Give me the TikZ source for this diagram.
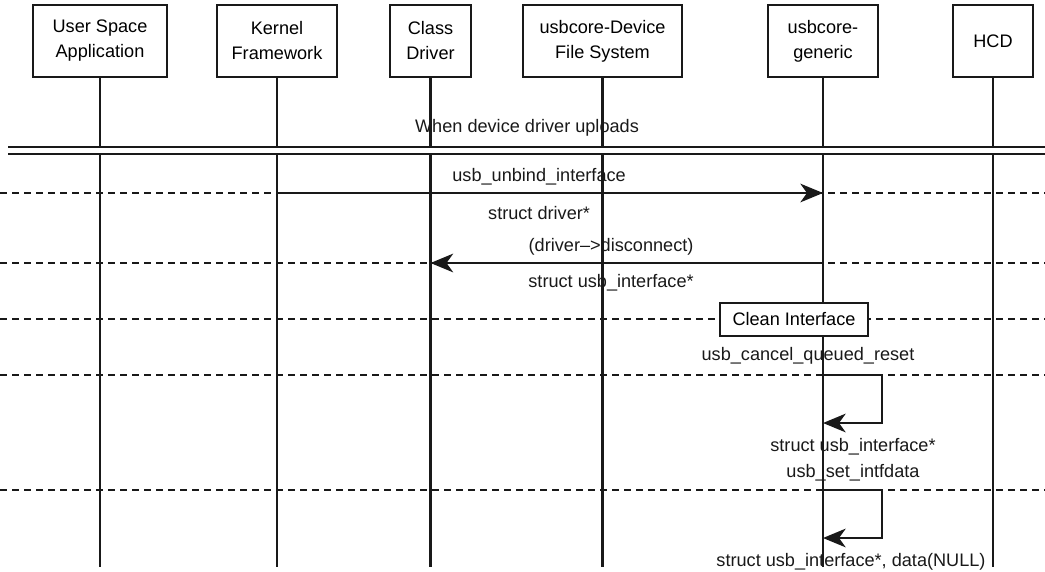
\documentclass[tikz,border=0pt]{standalone}
\usepackage{fontspec}
\setmainfont{Liberation Sans}
\usetikzlibrary{arrows.meta}

\begin{document}
\begin{tikzpicture}[x=0.75pt,y=-0.75pt,font=\fontsize{13.6}{18.75}\selectfont,>={Stealth[length=17pt,width=14pt,inset=5pt]},
  actor/.style={rectangle,draw=black!90,fill=white,line width=1.6pt,minimum height=54pt,align=center,inner sep=2pt},
  life/.style={draw=black!90,line width=1.6pt},
  sepline/.style={draw=black!90,line width=1.6pt,dash pattern=on 5pt off 4pt},
  msg/.style={->,draw=black!90,line width=1.6pt},
  lbl/.style={inner sep=1pt,text=black!90}]
\useasboundingbox (0,0) rectangle (1045,571);
% participants
\node[actor,minimum width=100.5pt] (user) at (100,41) {User Space\\Application};
\node[actor,minimum width=90pt] (kernel) at (277,41) {Kernel\\Framework};
\node[actor,minimum width=60.75pt] (class) at (430.5,41) {Class\\Driver};
\node[actor,minimum width=119.25pt] (devfs) at (602.5,41) {usbcore-Device\\File System};
\node[actor,minimum width=82.5pt] (generic) at (823,41) {usbcore-\\generic};
\node[actor,minimum width=60pt] (hcd) at (993,41) {HCD};
% lifelines
\foreach \p in {user,kernel,class,devfs,generic,hcd}
  \draw[life] (\p.south) -- (\p |- 0,567);
% phase
\node[lbl] (phase) at (527,128) {When device driver uploads};
\draw[draw=black!90,line width=1.6pt,double distance=3.7pt] (8,150.5) -- (1045,150.5);
% separators
\foreach \y in {193,263,319,375,490}
  \draw[sepline] (0,\y) -- (1045,\y);
% messages
\draw[msg] (kernel |- 0,193) -- node[lbl,above=4pt,pos=0.48] (m1a) {usb\_unbind\_interface}
  node[lbl,below=8pt,pos=0.48] (m1b) {struct driver*} (generic |- 0,193);
\draw[msg] (generic |- 0,263) -- node[lbl,above=4pt,pos=0.54] (m2a) {(driver--{}>disconnect)}
  node[lbl,below=7pt,pos=0.54] (m2b) {struct usb\_interface*} (class |- 0,263);
\node[actor,minimum width=111pt,minimum height=24.75pt] (clean) at (794,319.5) {Clean Interface};
\node[lbl] (m3a) at (808,356) {usb\_cancel\_queued\_reset};
\draw[msg] (generic |- 0,375) -- ++(59,0) |- (generic |- 0,423);
\node[lbl] (m3b) at (853,447) {struct usb\_interface*};
\node[lbl] (m4a) at (853,473) {usb\_set\_intfdata};
\draw[msg] (generic |- 0,490) -- ++(59,0) |- (generic |- 0,538);
\node[lbl] (m4b) at (851,562) {struct usb\_interface*, data(NULL)};
\end{tikzpicture}
\end{document}
